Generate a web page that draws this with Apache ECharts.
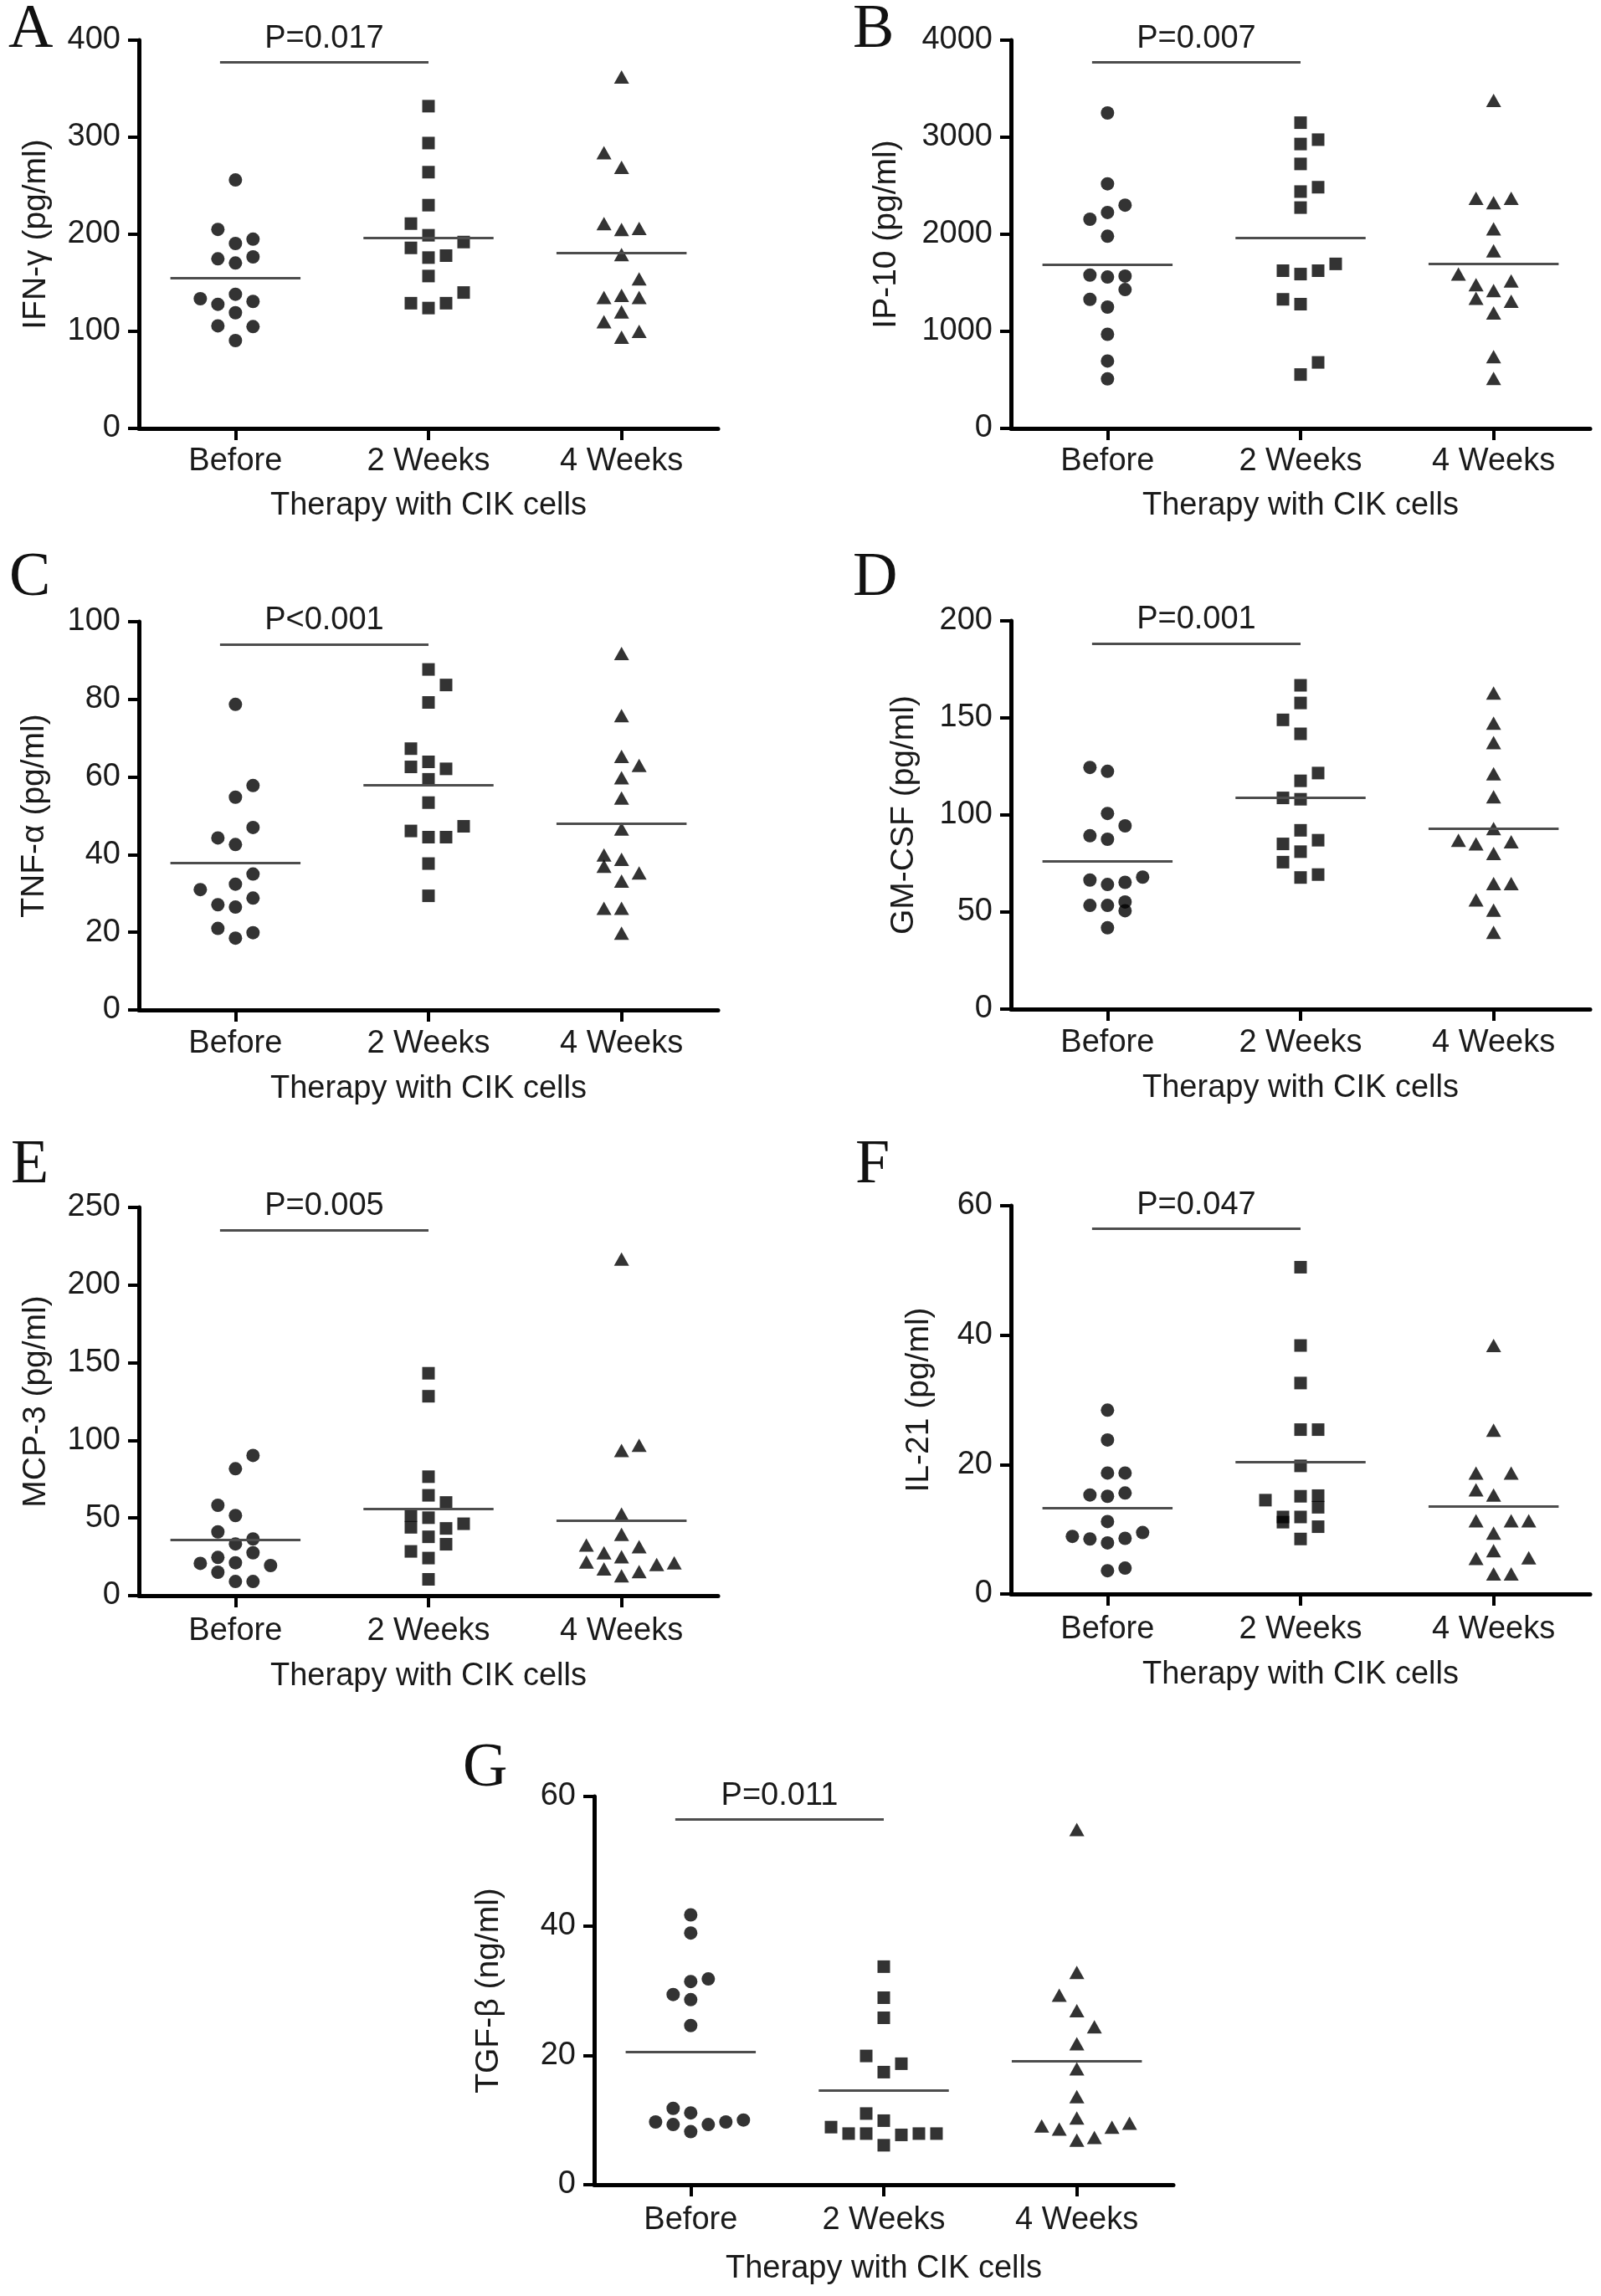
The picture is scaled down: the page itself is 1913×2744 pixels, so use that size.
<!DOCTYPE html>
<html><head><meta charset="utf-8">
<script src="https://cdn.jsdelivr.net/npm/echarts@6/dist/echarts.min.js"></script>
<style>html,body{margin:0;padding:0;background:#fff}#chart{width:1913px;height:2744px}</style>
</head><body><div id="chart"></div>
<script>
// ---------------- DATA ----------------
const categories = ['Before', '2 Weeks', '4 Weeks'];
const xAxisName = 'Therapy with CIK cells';
const panelLetters = ['A', 'B', 'C', 'D', 'E', 'F', 'G'];
const yNames = ['IFN-γ (pg/ml)', 'IP-10 (pg/ml)', 'TNF-α (pg/ml)', 'GM-CSF (pg/ml)', 'MCP-3 (pg/ml)', 'IL-21 (pg/ml)', 'TGF-β (ng/ml)'];
const yMax = [400, 4000, 100, 200, 250, 60, 60];
const yInterval = [100, 1000, 20, 50, 50, 20, 20];
const pTexts = ['P=0.017', 'P=0.007', 'P<0.001', 'P=0.001', 'P=0.005', 'P=0.047', 'P=0.011'];
const pLineY = [377, 3770, 94.2, 188.4, 235.5, 56.5, 56.5];

// A: IFN-gamma
const before_A = [256, 205, 195, 190.5, 174.7, 176.7, 170.4, 138.2, 133.6, 127.9, 130.8, 119.2, 105.7, 104.9, 90.5];
const slotBefore_A = [0, -1, 1, 0, -1, 1, 0, 0, -2, -1, 1, 0, -1, 1, 0];
const week2_A = [332, 294, 264, 230, 211, 199, 192, 186, 178, 176, 157, 140, 129, 129, 124];
const slotWeek2_A = [0, 0, 0, 0, -1, 0, 2, -1, 1, 0, 0, 2, -1, 1, 0];
const week4_A = [362, 284, 269, 211, 205, 206, 179, 154, 135, 137, 135, 120, 110, 100, 94];
const slotWeek4_A = [0, -1, 0, -1, 0, 1, 0, 1, -1, 0, 1, 0, -1, 1, 0];
const mean_A = [155, 196, 181];

// B: IP-10
const before_B = [3250, 2520, 2300, 2225, 2155, 1980, 1580, 1560, 1570, 1430, 1330, 1250, 970, 695, 510];
const slotBefore_B = [0, 0, 1, 0, -1, 0, -1, 0, 1, 1, -1, 0, 0, 0, 0];
const week2_B = [3150, 2975, 2930, 2725, 2485, 2440, 2275, 1695, 1625, 1590, 1625, 1330, 1280, 680, 555];
const slotWeek2_B = [0, 1, 0, 0, 1, 0, 0, 2, -1, 0, 1, -1, 0, 1, 0];
const week4_B = [3380, 2370, 2325, 2370, 2055, 1830, 1590, 1480, 1420, 1520, 1340, 1310, 1190, 740, 515];
const slotWeek4_B = [0, -1, 0, 1, 0, 0, -2, -1, 0, 1, -1, 1, 0, 0, 0];
const mean_B = [1690, 1960, 1700];

// C: TNF-alpha
const before_C = [78.7, 57.8, 54.8, 47.0, 44.3, 42.6, 35.0, 32.4, 31.0, 28.8, 27.1, 26.5, 21.0, 19.9, 18.5];
const slotBefore_C = [0, 1, 0, 1, -1, 0, 1, 0, -2, 1, -1, 0, -1, 1, 0];
const week2_C = [87.7, 83.7, 79.2, 67.3, 62.6, 63.9, 62.1, 59.4, 53.4, 47.3, 46.1, 44.5, 44.5, 37.7, 29.4];
const slotWeek2_C = [0, 1, 0, -1, -1, 0, 1, 0, 0, 2, -1, 0, 1, 0, 0];
const week4_C = [91.8, 75.8, 65.3, 63.0, 59.8, 54.6, 46.6, 39.9, 38.8, 37.0, 35.3, 33.2, 26.2, 26.2, 19.8];
const slotWeek4_C = [0, 0, 0, 1, 0, 0, 0, -1, 0, -1, 1, 0, -1, 0, 0];
const mean_C = [37.8, 58.0, 47.9];

// D: GM-CSF
const before_D = [124.5, 122.5, 100.8, 94.4, 89.3, 87.5, 68.0, 66.5, 64.2, 65.3, 53.4, 53.4, 55.2, 50.7, 41.9];
const slotBefore_D = [-1, 0, 0, 1, -1, 0, 2, -1, 0, 1, -1, 0, 1, 1, 0];
const week2_D = [166.8, 157.7, 149, 141.8, 121.6, 117.6, 108.8, 108.1, 92.1, 87.0, 85.1, 81.1, 75.7, 69.3, 67.8];
const slotWeek2_D = [0, 0, -1, 0, 1, 0, -1, 0, 0, 1, -1, 0, -1, 1, 0];
const week4_D = [162.8, 147.3, 137.3, 121.2, 109.4, 93.0, 87.0, 85.1, 86.2, 80.2, 64.7, 64.7, 56.2, 51.0, 39.6];
const slotWeek4_D = [0, 0, 0, 0, 0, 0, -2, -1, 1, 0, 0, 1, -1, 0, 0];
const mean_D = [76, 108.8, 93];

// E: MCP-3
const before_E = [90.3, 81.7, 58.2, 51.6, 41.1, 36.5, 33.3, 27.6, 24.6, 20.8, 21.2, 19.4, 15.1, 9.1, 9.1];
const slotBefore_E = [1, 0, -1, 0, -1, 1, 0, 1, -1, -2, 0, 2, -1, 0, 1];
const week2_E = [143.2, 128.4, 76.6, 64.6, 60.0, 51.6, 50.2, 46.3, 44.0, 43.3, 37.9, 33.1, 28.5, 24.2, 10.5];
const slotWeek2_E = [0, 0, 0, 0, 1, -1, 0, 2, -1, 1, 0, 1, -1, 0, 0];
const week4_E = [216.7, 96.9, 93.5, 52.5, 39.5, 32.6, 31.5, 27.6, 25.1, 21.7, 20.1, 21.2, 17.3, 15.5, 12.8];
const slotWeek4_E = [0, 1, 0, 0, 0, -2, 1, -1, 0, -2, 2, 3, -1, 1, 0];
const mean_E = [36, 56, 48.6];

// F: IL-21
const before_F = [28.4, 23.8, 18.7, 18.7, 15.3, 15.1, 15.6, 11.2, 8.9, 8.5, 7.9, 8.6, 9.5, 3.6, 4.0];
const slotBefore_F = [0, 0, 0, 1, -1, 0, 1, 0, -2, -1, 0, 1, 2, 0, 1];
const week2_F = [50.5, 38.4, 32.6, 25.4, 25.4, 19.8, 14.5, 15.1, 15.2, 13.4, 11.9, 11.9, 11.1, 10.4, 8.5];
const slotWeek2_F = [0, 0, 0, 0, 1, 0, -2, 0, 1, 1, -1, 0, -1, 1, 0];
const week4_F = [38.4, 25.3, 18.7, 18.7, 16.1, 15.3, 11.3, 11.3, 11.3, 9.4, 6.7, 5.5, 5.6, 3.1, 3.1];
const slotWeek4_F = [0, 0, -1, 1, -1, 0, -1, 1, 2, 0, 0, -1, 2, 0, 1];
const mean_F = [13.3, 20.4, 13.5];

// G: TGF-beta
const before_G = [41.7, 38.9, 31.8, 31.4, 29.4, 28.6, 24.6, 11.8, 11.1, 9.7, 10.0, 9.7, 9.3, 9.3, 8.2];
const slotBefore_G = [0, 0, 1, 0, -1, 0, 0, -1, 0, -2, 3, 2, -1, 1, 0];
const week2_G = [33.7, 28.9, 25.8, 19.9, 18.7, 17.4, 11.0, 9.9, 8.9, 7.9, 7.9, 7.7, 7.9, 7.9, 6.1];
const slotWeek2_G = [0, 0, 0, -1, 1, 0, -1, 0, -3, -2, -1, 1, 2, 3, 0];
const week4_G = [54.9, 32.8, 29.3, 26.9, 24.4, 21.8, 17.9, 13.6, 10.3, 9.1, 8.6, 8.9, 9.5, 6.9, 7.3];
const slotWeek4_G = [0, 0, -1, 0, 1, 0, 0, 0, 0, -2, -1, 2, 3, 0, 1];
const mean_G = [20.5, 14.6, 19.1];

// ---------------- LAYOUT / STYLE ----------------
const groups = [
  [before_A, week2_A, week4_A, slotBefore_A, slotWeek2_A, slotWeek4_A, mean_A],
  [before_B, week2_B, week4_B, slotBefore_B, slotWeek2_B, slotWeek4_B, mean_B],
  [before_C, week2_C, week4_C, slotBefore_C, slotWeek2_C, slotWeek4_C, mean_C],
  [before_D, week2_D, week4_D, slotBefore_D, slotWeek2_D, slotWeek4_D, mean_D],
  [before_E, week2_E, week4_E, slotBefore_E, slotWeek2_E, slotWeek4_E, mean_E],
  [before_F, week2_F, week4_F, slotBefore_F, slotWeek2_F, slotWeek4_F, mean_F],
  [before_G, week2_G, week4_G, slotBefore_G, slotWeek2_G, slotWeek4_G, mean_G]
];
const gridPos = [
  {left: 166, top: 48}, {left: 1208, top: 48},
  {left: 166, top: 743}, {left: 1208, top: 742},
  {left: 166, top: 1443}, {left: 1208, top: 1441},
  {left: 710, top: 2147}
];
const letterPos = [
  {left: 10, top: 0}, {left: 1019, top: 0},
  {left: 11, top: 655}, {left: 1019, top: 655},
  {left: 13, top: 1357}, {left: 1022, top: 1357},
  {left: 553, top: 2078}
];
const yNameGap = [103, 129, 105, 108, 103, 90, 106];
const xLabelMargin = [21, 21, 22, 22, 24, 24, 24];
const xNameGap = [74, 74, 76, 76, 78, 78, 82];
const GW = 692, GH = 464;
const STEP = 0.091, HALF = 0.337;
const FONT = 'Liberation Sans, Arial, sans-serif';
const TXT = '#1a1a1a';
const symbols = ['circle', 'rect', 'triangle'];
const symbolSizes = [16, 15, [18, 16]];

const option = {
  animation: false,
  backgroundColor: '#fff',
  title: [], grid: [], xAxis: [], yAxis: [], series: []
};

groups.forEach((g, i) => {
  option.title.push({
    text: panelLetters[i], left: letterPos[i].left, top: letterPos[i].top, padding: 0,
    textStyle: {fontFamily: 'Liberation Serif, Times New Roman, serif', fontSize: 74, fontWeight: 'normal', color: '#111'}
  });
  option.grid.push({left: gridPos[i].left, top: gridPos[i].top, width: GW, height: GH, containLabel: false});
  option.xAxis.push({
    gridIndex: i, type: 'category', data: categories, boundaryGap: true, position: 'bottom',
    axisLine: {show: true, onZero: false, lineStyle: {color: '#000', width: 5}},
    axisTick: {show: true, alignWithLabel: true, length: 14, lineStyle: {color: '#000', width: 4}},
    axisLabel: {fontSize: 38, color: TXT, margin: xLabelMargin[i], fontFamily: FONT, interval: 0},
    splitLine: {show: false},
    name: xAxisName, nameLocation: 'middle', nameGap: xNameGap[i],
    nameTextStyle: {fontSize: 38, color: TXT, fontFamily: FONT}
  });
  option.xAxis.push({gridIndex: i, type: 'value', min: -0.5, max: 2.5, show: false,
    axisLine: {onZero: false}});
  option.yAxis.push({
    gridIndex: i, type: 'value', min: 0, max: yMax[i], interval: yInterval[i], position: 'left',
    axisLine: {show: true, onZero: false, lineStyle: {color: '#000', width: 5}},
    axisTick: {show: true, length: 13, lineStyle: {color: '#000', width: 4}},
    axisLabel: {fontSize: 38, color: TXT, margin: 22, fontFamily: FONT, formatter: v => String(v)},
    splitLine: {show: false},
    name: yNames[i], nameLocation: 'middle', nameRotate: 90, nameGap: yNameGap[i],
    nameTextStyle: {fontSize: 39, color: TXT, fontFamily: FONT}
  });
  const vIdx = 2 * i + 1;
  for (let c = 0; c < 3; c++) {
    const vals = g[c], slots = g[3 + c];
    const s = {
      type: 'scatter', xAxisIndex: vIdx, yAxisIndex: i,
      symbol: symbols[c], symbolSize: symbolSizes[c],
      itemStyle: {color: '#000'}, silent: true,
      data: vals.map((v, k) => [c + slots[k] * STEP, v])
    };
    if (c === 0) {
      const means = g[6];
      const lines = means.map((m, j) => [{coord: [j - HALF, m]}, {coord: [j + HALF, m]}]);
      lines.push([{coord: [-0.08, pLineY[i]]}, {coord: [1.0, pLineY[i]]}]);
      s.markLine = {
        silent: true, symbol: ['none', 'none'], animation: false,
        label: {show: false}, emphasis: {disabled: true},
        lineStyle: {color: '#4d4d4d', width: 3, type: 'solid', opacity: 1},
        data: lines
      };
    }
    option.series.push(s);
  }
  option.series.push({
    type: 'scatter', xAxisIndex: vIdx, yAxisIndex: i, silent: true,
    symbolSize: 0, itemStyle: {color: '#000', opacity: 1},
    data: [[0.46, pLineY[i]]],
    label: {show: true, position: 'top', distance: 9, formatter: pTexts[i],
      fontSize: 38, color: TXT, opacity: 1, fontFamily: FONT}
  });
});

const chart = echarts.init(document.getElementById('chart'), null, {renderer: 'canvas'});
chart.setOption(option);
</script></body></html>
